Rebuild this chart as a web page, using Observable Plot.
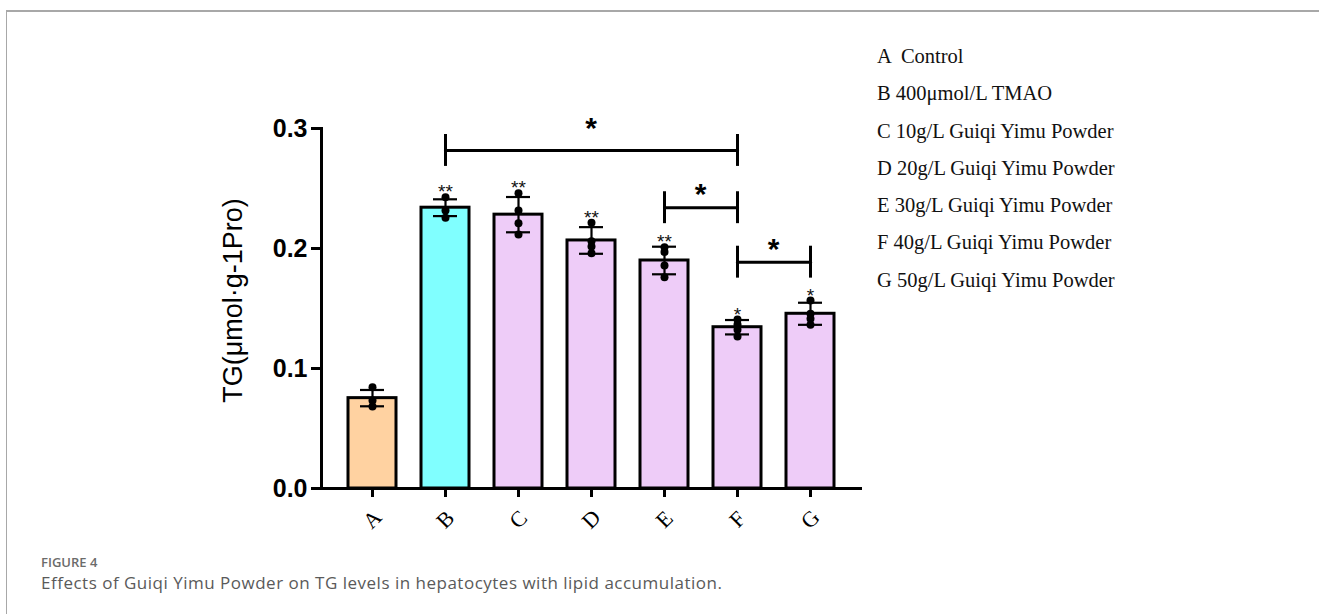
<!DOCTYPE html>
<html>
<head>
<meta charset="utf-8">
<script src="https://cdn.jsdelivr.net/npm/d3@7"></script>
<script src="https://cdn.jsdelivr.net/npm/@observablehq/plot@0.6"></script>
<style>
  html, body { margin: 0; padding: 0; background: #fff; }
  #page { position: relative; width: 1319px; height: 614px; overflow: hidden; background: #fff; }
  #frameTop { position: absolute; left: 7px; top: 10px; right: 0; height: 0; border-top: 2px solid #a8a8a8; }
  #frameLeft { position: absolute; left: 6px; top: 10px; bottom: 0; width: 0; border-left: 1px solid #a8a8a8; }
  #chart { position: absolute; left: 0; top: 0; }
  #chart svg { overflow: visible; }
  #legend { position: absolute; left: 877px; top: 38px; font-family: "Liberation Serif", "Times New Roman", serif; font-size: 20.5px; line-height: 37.3px; color: #111; white-space: pre; }
  #figlabel { position: absolute; left: 41px; top: 556px; line-height: 1; font-family: "Open Sans", sans-serif; font-size: 13px; font-weight: 600; color: #6b6b6b; }
  #caption { position: absolute; left: 41px; top: 574px; line-height: 1; font-family: "Open Sans", sans-serif; font-size: 17px; letter-spacing: 0.5px; color: #5a5a5a; }
</style>
</head>
<body>
<div id="page">
  <div id="frameTop"></div>
  <div id="frameLeft"></div>
  <div id="chart"></div>
  <div id="legend"></div>
  <div id="figlabel">FIGURE 4</div>
  <div id="caption">Effects of Guiqi Yimu Powder on TG levels in hepatocytes with lipid accumulation.</div>
</div>
<script>
// ---- data ----
const groups = ["A", "B", "C", "D", "E", "F", "G"];
const legendLabels = [
  "A  Control",
  "B 400μmol/L TMAO",
  "C 10g/L Guiqi Yimu Powder",
  "D 20g/L Guiqi Yimu Powder",
  "E 30g/L Guiqi Yimu Powder",
  "F 40g/L Guiqi Yimu Powder",
  "G 50g/L Guiqi Yimu Powder"
];
const means = [0.0753, 0.2340, 0.2282, 0.2067, 0.1900, 0.1344, 0.1456];
const sds   = [0.0068, 0.0070, 0.0147, 0.0111, 0.0115, 0.0060, 0.0092];
const replicates = [
  [0.0844, 0.0733, 0.0683],
  [0.2428, 0.2317, 0.2256],
  [0.2461, 0.2317, 0.2211, 0.2117],
  [0.2214, 0.2061, 0.2017, 0.1961],
  [0.2011, 0.1970, 0.1858, 0.1761],
  [0.1408, 0.1367, 0.1322, 0.1267],
  [0.1567, 0.1456, 0.1414, 0.1364]
];
const sigMarks = ["", "**", "**", "**", "**", "*", "*"];
const barColors = ["#FFD2A1", "#80FFFF", "#EECCF8", "#EECCF8", "#EECCF8", "#EECCF8", "#EECCF8"];
const yTicks = [0, 0.1, 0.2, 0.3];
const yLabel = "TG(μmol·g-1Pro)";

// comparison brackets
const bracketFrom  = ["B", "E", "F"];
const bracketTo    = ["F", "F", "G"];
const bracketLevel = [0.2817, 0.2340, 0.1886];
const bracketStarY = [0.3053, 0.2508, 0.2042];
const bracketText  = ["*", "*", "*"];
const bracketArm   = 0.0133;

// ---- tables built from the arrays ----
const rows = groups.map((g, i) => ({
  g, mean: means[i], sd: sds[i], fill: barColors[i], star: sigMarks[i],
  top: Math.max(means[i] + sds[i], ...replicates[i])
}));
const pts = groups.flatMap((g, i) => replicates[i].map(v => ({g, v})));
const bracketLine = bracketFrom.flatMap((f, i) => [
  {id: i, g: f, v: bracketLevel[i]},
  {id: i, g: bracketTo[i], v: bracketLevel[i]}
]);
const bracketEnds = bracketFrom.flatMap((f, i) => [
  {g: f, y1: bracketLevel[i] - bracketArm, y2: bracketLevel[i] + bracketArm},
  {g: bracketTo[i], y1: bracketLevel[i] - bracketArm, y2: bracketLevel[i] + bracketArm}
]);

// mark that centres each bracket's asterisk between its two bands
function bracketStars(index, scales) {
  const x = scales.x, y = scales.y;
  const bw = x.bandwidth ? x.bandwidth() : 0;
  const g = d3.create("svg:g");
  bracketFrom.forEach((f, i) => {
    const cx = (x(f) + x(bracketTo[i])) / 2 + bw / 2;
    g.append("text")
      .attr("x", cx)
      .attr("y", y(bracketStarY[i]))
      .attr("dy", "0.55em")
      .attr("text-anchor", "middle")
      .attr("font-family", "Arial, 'Liberation Sans', sans-serif")
      .attr("font-size", 30)
      .attr("font-weight", "bold")
      .attr("fill", "black")
      .text(bracketText[i]);
  });
  return g.node();
}

const chart = Plot.plot({
  width: 880,
  height: 545,
  marginLeft: 321,
  marginRight: 18,
  marginTop: 128,
  marginBottom: 57,
  style: {background: "transparent", overflow: "visible"},
  x: {domain: groups, padding: 0.34, label: null},
  y: {domain: [0, 0.3], label: null},
  color: {type: "identity"},
  marks: [
    Plot.barY(rows, {x: "g", y: "mean", fill: "fill", stroke: "black", strokeWidth: 3}),
    Plot.ruleX(rows, {x: "g", y1: d => d.mean - d.sd, y2: d => d.mean + d.sd, stroke: "black", strokeWidth: 2.2}),
    Plot.tickY(rows, {x: "g", y: d => d.mean + d.sd, stroke: "black", strokeWidth: 2.2, insetLeft: 12, insetRight: 12}),
    Plot.tickY(rows, {x: "g", y: d => d.mean - d.sd, stroke: "black", strokeWidth: 2.2, insetLeft: 12, insetRight: 12}),
    Plot.dot(pts, {x: "g", y: "v", r: 4, fill: "black"}),
    Plot.text(rows, {x: "g", y: "top", text: "star", fontSize: 19, dy: -5, lineAnchor: "middle", fontFamily: "Arial, 'Liberation Sans', sans-serif", fill: "#111"}),
    Plot.line(bracketLine, {x: "g", y: "v", z: "id", stroke: "black", strokeWidth: 3}),
    Plot.ruleX(bracketEnds, {x: "g", y1: "y1", y2: "y2", stroke: "black", strokeWidth: 3}),
    bracketStars,
    Plot.ruleY([0], {stroke: "black", strokeWidth: 3}),
    Plot.frame({anchor: "left", stroke: "black", strokeWidth: 3}),
    Plot.axisY({ticks: yTicks, tickFormat: ".1f", tickSize: 10, tickPadding: 4, strokeWidth: 3,
      fontSize: 25, fontWeight: "bold", fontFamily: "Arial, 'Liberation Sans', sans-serif", label: null, fill: "black"}),
    Plot.axisX({tickSize: 9, strokeWidth: 3, tickRotate: -45, tickPadding: 22, fontSize: 22,
      textAnchor: "middle", lineAnchor: "middle",
      fontFamily: "'Liberation Serif', 'Times New Roman', serif", label: null, fill: "black"}),
    Plot.text([yLabel], {frameAnchor: "left", rotate: -90, dx: -88, dy: -8, fontSize: 27,
      fontFamily: "Arial, 'Liberation Sans', sans-serif", fill: "black", textAnchor: "middle", lineAnchor: "middle"})
  ]
});
document.getElementById("chart").appendChild(chart);
document.getElementById("legend").textContent = legendLabels.join("\n");
</script>
</body>
</html>
